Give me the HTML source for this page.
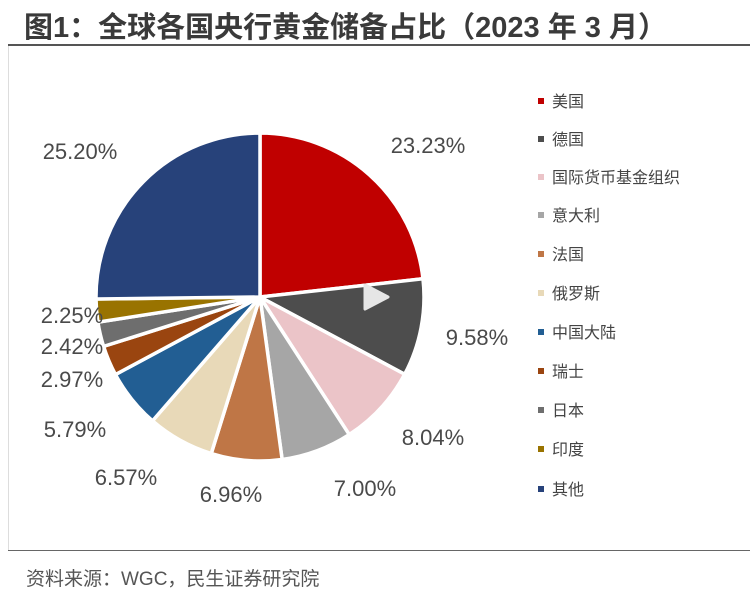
<!DOCTYPE html>
<html><head><meta charset="utf-8"><style>
body{margin:0;width:750px;height:595px;background:#fff;overflow:hidden;position:relative;font-family:"Liberation Sans","Noto Sans CJK SC",sans-serif;}
.t{position:absolute;white-space:nowrap}
.lbl{position:absolute;font-size:22px;color:#4a4a4a;transform:translate(-50%,-50%);white-space:nowrap}
.lg{position:absolute;left:538px;font-size:16px;color:#444;transform:translateY(-50%);white-space:nowrap}
.lg i{display:inline-block;width:6px;height:6px;margin-right:8px;vertical-align:middle;position:relative;top:-2px}
</style></head><body>
<div class="t" style="left:24px;top:4px;font-size:29px;font-weight:bold;color:#3a3a3a;">图1：全球各国央行黄金储备占比（2023 年 3 月）</div>
<div style="position:absolute;left:8px;top:44px;width:742px;height:2px;background:#555"></div>
<div style="position:absolute;left:8px;top:46px;width:1px;height:504px;background:#ddd"></div>
<div style="position:absolute;left:8px;top:550px;width:742px;height:1px;background:#666"></div>
<div class="t" style="left:26px;top:564px;font-size:19px;color:#555">资料来源：WGC，民生证券研究院</div>
<svg id="pie" width="750" height="595" style="position:absolute;left:0;top:0"></svg>
<div class="lbl" style="left:428px;top:146px">23.23%</div>
<div class="lbl" style="left:477px;top:338px">9.58%</div>
<div class="lbl" style="left:433px;top:438px">8.04%</div>
<div class="lbl" style="left:365px;top:489px">7.00%</div>
<div class="lbl" style="left:231px;top:495px">6.96%</div>
<div class="lbl" style="left:126px;top:478px">6.57%</div>
<div class="lbl" style="left:75px;top:430px">5.79%</div>
<div class="lbl" style="left:72px;top:380px">2.97%</div>
<div class="lbl" style="left:72px;top:347px">2.42%</div>
<div class="lbl" style="left:72px;top:316px">2.25%</div>
<div class="lbl" style="left:80px;top:152px">25.20%</div>
<div class="lg" style="top:100px"><i style="background:#c00000"></i>美国</div>
<div class="lg" style="top:138px"><i style="background:#4d4d4d"></i>德国</div>
<div class="lg" style="top:176px"><i style="background:#ebc4c8"></i>国际货币基金组织</div>
<div class="lg" style="top:214px"><i style="background:#a6a6a6"></i>意大利</div>
<div class="lg" style="top:253px"><i style="background:#bf7646"></i>法国</div>
<div class="lg" style="top:292px"><i style="background:#e8d9b8"></i>俄罗斯</div>
<div class="lg" style="top:331px"><i style="background:#225e93"></i>中国大陆</div>
<div class="lg" style="top:370px"><i style="background:#9a4510"></i>瑞士</div>
<div class="lg" style="top:409px"><i style="background:#6e6e6e"></i>日本</div>
<div class="lg" style="top:448px"><i style="background:#997300"></i>印度</div>
<div class="lg" style="top:488px"><i style="background:#27427a"></i>其他</div>
<script>
var d=[[23.23,"#c00000"],[9.58,"#4d4d4d"],[8.04,"#ebc4c8"],[7.00,"#a6a6a6"],[6.96,"#bf7646"],[6.57,"#e8d9b8"],[5.79,"#225e93"],[2.97,"#9a4510"],[2.42,"#6e6e6e"],[2.25,"#997300"],[25.20,"#27427a"]];
var cx=260,cy=297,r=164,a=0,s="",tot=100.01;
d.forEach(function(e){var a1=a+e[0]/tot*2*Math.PI;
var x0=cx+r*Math.sin(a),y0=cy-r*Math.cos(a),x1=cx+r*Math.sin(a1),y1=cy-r*Math.cos(a1);
s+='<path d="M'+cx+','+cy+' L'+x0.toFixed(2)+','+y0.toFixed(2)+' A'+r+','+r+' 0 '+(a1-a>Math.PI?1:0)+',1 '+x1.toFixed(2)+','+y1.toFixed(2)+' Z" fill="'+e[1]+'" stroke="#fff" stroke-width="3.5" stroke-linejoin="round"/>';a=a1;});
s+='<path d="M365,285 L388,297 L365,309 Z" fill="#e6e6e6" stroke="#e6e6e6" stroke-width="3" stroke-linejoin="round"/>';
document.getElementById("pie").innerHTML=s;
</script>
</body></html>
